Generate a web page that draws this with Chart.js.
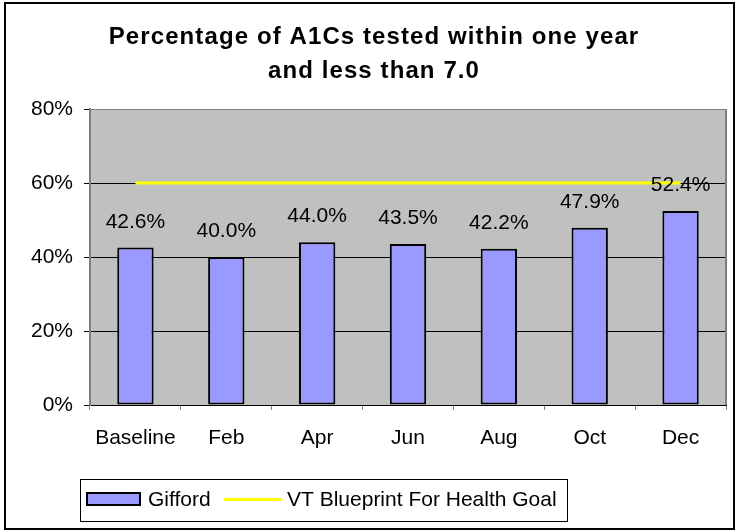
<!DOCTYPE html>
<html>
<head>
<meta charset="utf-8">
<script src="https://cdn.jsdelivr.net/npm/chart.js@4"></script>
<style>
  body { margin: 0; background: #fff; }
  canvas { display: block; }
</style>
</head>
<body>
<canvas id="a1cChart" width="736" height="531"></canvas>
<script>
// Data
const categories = ['Baseline', 'Feb', 'Apr', 'Jun', 'Aug', 'Oct', 'Dec'];
const giffordValues = [42.6, 40.0, 44.0, 43.5, 42.2, 47.9, 52.4];
const goalValues = [60, 60, 60, 60, 60, 60, 60];
const titleLines = ['Percentage of A1Cs tested within one year', 'and less than 7.0'];
const yTicks = [0, 20, 40, 60, 80];

const FONT = "'Liberation Sans', Arial, sans-serif";

// gray plot background + right border, outer frame, title, value labels, legend
const decorations = {
    id: 'decorations',
    beforeDraw(chart) {
        const ctx = chart.ctx;
        const a = chart.chartArea;
        ctx.save();
        ctx.fillStyle = '#fff';
        ctx.fillRect(0, 0, chart.width, chart.height);
        ctx.fillStyle = '#C0C0C0';
        ctx.fillRect(a.left, a.top, a.right - a.left, a.bottom - a.top);
        ctx.restore();
    },
    afterDatasetsDraw(chart) {
        const ctx = chart.ctx;
        const a = chart.chartArea;
        ctx.save();
        // right edge of plot area
        ctx.strokeStyle = '#808080';
        ctx.lineWidth = 2;
        ctx.beginPath();
        ctx.moveTo(a.right, a.top);
        ctx.lineTo(a.right, a.bottom);
        ctx.stroke();

        // value labels above bars
        ctx.fillStyle = '#000';
        ctx.font = '21px ' + FONT;
        ctx.textAlign = 'center';
        ctx.textBaseline = 'middle';
        chart.getDatasetMeta(0).data.forEach((bar, i) => {
            ctx.fillText(giffordValues[i].toFixed(1) + '%', bar.x, bar.y - 25.5);
        });
        ctx.restore();
    },
    afterDraw(chart) {
        const ctx = chart.ctx;
        ctx.save();
        // outer frame
        ctx.strokeStyle = '#000';
        ctx.lineWidth = 2;
        ctx.strokeRect(5, 3, 729, 526);

        // title
        ctx.fillStyle = '#000';
        ctx.font = 'bold 24px ' + FONT;
        ctx.textAlign = 'center';
        ctx.textBaseline = 'alphabetic';
        ctx.letterSpacing = '1.1px';
        ctx.fillText(titleLines[0], 374, 44);
        ctx.fillText(titleLines[1], 374, 78);
        ctx.letterSpacing = '0px';

        // legend
        const ds = chart.data.datasets;
        ctx.strokeStyle = '#000';
        ctx.lineWidth = 1;
        ctx.strokeRect(80.5, 479.5, 487, 42);
        ctx.fillStyle = ds[0].backgroundColor;
        ctx.fillRect(87, 493, 53, 12);
        ctx.lineWidth = 2;
        ctx.strokeRect(87, 493, 53, 12);
        ctx.strokeStyle = ds[1].borderColor;
        ctx.lineWidth = 3;
        ctx.beginPath();
        ctx.moveTo(224, 499.5);
        ctx.lineTo(282, 499.5);
        ctx.stroke();
        ctx.fillStyle = '#000';
        ctx.font = '21px ' + FONT;
        ctx.textAlign = 'left';
        ctx.textBaseline = 'middle';
        ctx.fillText(ds[0].label, 148, 500);
        ctx.fillText(ds[1].label, 287, 500);
        ctx.restore();
    }
};

const ctx = document.getElementById('a1cChart').getContext('2d');
new Chart(ctx, {
    type: 'bar',
    data: {
        labels: categories,
        datasets: [
            {
                type: 'bar',
                label: 'Gifford',
                data: giffordValues,
                backgroundColor: '#9999FF',
                borderColor: '#000',
                borderWidth: 2,
                borderSkipped: false,
                categoryPercentage: 1,
                barPercentage: 0.4,
                order: 2
            },
            {
                type: 'line',
                label: 'VT Blueprint For Health Goal',
                data: goalValues,
                borderColor: '#FFFF00',
                backgroundColor: '#FFFF00',
                borderWidth: 3,
                pointRadius: 0,
                fill: false,
                order: 1
            }
        ]
    },
    options: {
        responsive: false,
        animation: false,
        devicePixelRatio: 1,
        layout: {
            padding: { left: 0, right: 10, top: 109, bottom: 81 }
        },
        plugins: {
            legend: { display: false },
            title: { display: false },
            tooltip: { enabled: false }
        },
        scales: {
            x: {
                offset: true,
                grid: {
                    offset: true,
                    drawOnChartArea: false,
                    drawTicks: true,
                    tickLength: 5,
                    color: '#808080'
                },
                border: { color: '#000', width: 1 },
                ticks: {
                    color: '#000',
                    padding: 16,
                    font: { family: FONT, size: 21 },
                    maxRotation: 0
                },
                afterFit: function (scale) { scale.height = 45; }
            },
            y: {
                min: 0,
                max: 80,
                afterBuildTicks: function (scale) {
                    scale.ticks = yTicks.map(v => ({ value: v }));
                },
                grid: {
                    color: function (c) { return c.tick && c.tick.value === 80 ? '#808080' : '#000'; },
                    lineWidth: 1,
                    tickLength: 6,
                    tickColor: '#000'
                },
                border: { color: '#808080', width: 2 },
                ticks: {
                    color: '#000',
                    padding: 11,
                    font: { family: FONT, size: 21 },
                    callback: function (v) { return v + '%'; }
                },
                afterFit: function (scale) { scale.width = 90; }
            }
        }
    },
    plugins: [decorations]
});
</script>
</body>
</html>
